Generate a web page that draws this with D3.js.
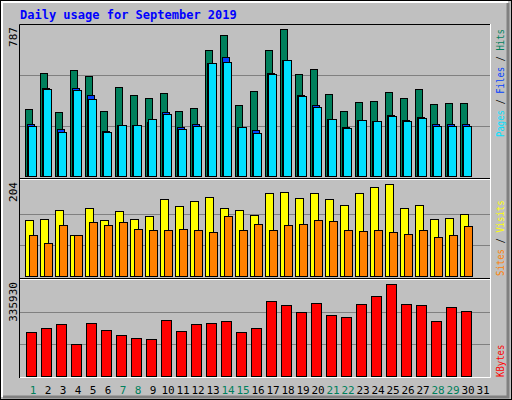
<!DOCTYPE html>
<html><head><meta charset="utf-8">
<script src="https://cdn.jsdelivr.net/npm/d3@7"></script>
<style>body{margin:0;background:#fff}</style>
</head><body><div id="chart"></div>
<script>
const days = d3.range(1, 32);
const weekend = [1, 7, 8, 14, 15, 21, 22, 28, 29];
const hits = [347,535,332,551,519,337,462,420,405,431,337,353,655,733,368,441,655,764,530,556,426,337,384,389,436,405,452,373,379,379];
const files = [269,457,243,457,420,233,264,264,280,332,254,269,587,618,254,238,535,603,420,368,295,254,290,285,316,290,306,269,269,269];
const pages = [261,452,228,448,401,228,264,264,295,321,243,261,587,592,254,222,530,603,415,358,295,248,290,285,311,285,301,261,261,261];
const visits = [122,124,144,91,150,122,142,124,131,168,153,164,174,150,144,133,181,185,172,183,168,155,181,196,201,150,155,126,128,137];
const sites = [89,72,111,91,118,111,118,104,100,100,104,102,96,131,102,113,102,111,115,122,120,100,98,102,96,93,102,85,91,109];
const kbytes = [152700,166700,180700,110800,184200,159700,142300,131800,128300,194700,156200,180700,184200,191200,152700,166700,261200,247200,222700,254200,212200,205200,250700,278700,320700,250700,247200,191200,240200,226200];

const W = 512, H = 400, left = 20, right = 490;
const svg = d3.select('#chart').append('svg').attr('width', W).attr('height', H)
  .style('font-family', 'DejaVu Sans Mono, monospace');

// frame
svg.append('rect').attr('x', 0.5).attr('y', 0.5).attr('width', W - 1).attr('height', H - 1)
  .attr('fill', '#c0c0c0').attr('stroke', '#000');
svg.append('path').attr('d', 'M2,397V2H508').attr('fill', 'none').attr('stroke', '#fff').attr('stroke-width', 2);
svg.append('path').attr('d', 'M508,3V397H3').attr('fill', 'none').attr('stroke', '#808080').attr('stroke-width', 3);

svg.append('text').attr('x', 20).attr('y', 19).text('Daily usage for September 2019')
  .attr('fill', '#0000ff').attr('font-weight', 'bold').attr('font-size', 12);

const x = d3.scaleBand().domain(days).range([left, left + 15 * 31]);

const panels = [
  { y0: 25, y1: 177, base: 176, top: 25, max: 787, label: '787' },
  { y0: 180, y1: 277, base: 276, top: 183, max: 204, label: '204' },
  { y0: 280, y1: 377, base: 376, top: 280, max: 335930, label: '335930' }
];

panels.forEach(p => {
  const g = svg.append('g');
  g.append('rect').attr('x', left).attr('y', p.y0).attr('width', right - left).attr('height', p.y1 - p.y0)
    .attr('fill', '#c0c0c0');
  p.y = d3.scaleLinear().domain([0, p.max]).range([p.base, p.top]);
  [1, 2].forEach(k => {
    const yy = Math.round(p.y(p.max * k / 3)) + 0.5;
    g.append('line').attr('x1', left).attr('x2', right).attr('y1', yy).attr('y2', yy)
      .attr('stroke', '#808080');
  });
  g.append('text').attr('transform', `translate(17,${p.y0 + 2}) rotate(-90)`)
    .attr('text-anchor', 'end').attr('font-size', 11).attr('fill', '#000').text(p.label);
});

// panel borders
svg.append('path').attr('d', `M${left - 0.5},378V24.5H${right + 0.5}`).attr('fill', 'none').attr('stroke', '#000');
svg.append('path').attr('d', `M${left},377.5H${right + 0.5}V24`).attr('fill', 'none').attr('stroke', '#fff');
[179.5, 279.5].forEach(yy => {
  svg.append('line').attr('x1', left).attr('x2', right).attr('y1', yy - 1).attr('y2', yy - 1).attr('stroke', '#000');
  svg.append('line').attr('x1', left).attr('x2', right).attr('y1', yy).attr('y2', yy).attr('stroke', '#fff');
});

function bars(data, p, off, w, color) {
  svg.append('g').selectAll('rect').data(data).join('rect')
    .attr('x', (d, i) => x(days[i]) + off + 0.5)
    .attr('y', d => Math.round(p.y(d)) + 0.5)
    .attr('width', w)
    .attr('height', d => p.base - Math.round(p.y(d)))
    .attr('fill', color).attr('stroke', '#000');
}
bars(hits, panels[0], 5, 7, '#00805c');
bars(files, panels[0], 7, 7, '#0040ff');
bars(pages, panels[0], 8, 8, '#00e0ff');
bars(visits, panels[1], 5, 8, '#ffff00');
bars(sites, panels[1], 9, 8, '#ff8000');
bars(kbytes, panels[2], 6, 10, '#ff0000');

// day labels
svg.append('g').selectAll('text').data(days).join('text')
  .attr('x', d => x(d) + 13).attr('y', 394).attr('text-anchor', 'middle')
  .attr('font-size', 11).attr('fill', d => weekend.includes(d) ? '#00805c' : '#000')
  .text(d => d);

// right labels
function sideLabel(parts, yEnd) {
  const n = parts.reduce((s, p) => s + p[0].length, 0);
  const t = svg.append('text').attr('transform', `translate(504,${yEnd}) rotate(-90)`)
    .attr('font-size', 10).attr('textLength', n * 5.4).attr('lengthAdjust', 'spacingAndGlyphs');
  parts.forEach(([s, c]) => t.append('tspan').attr('fill', c).text(s));
}
sideLabel([['Pages', '#00e0ff'], [' / ', '#000'], ['Files', '#0040ff'], [' / ', '#000'], ['Hits', '#00805c']], 137);
sideLabel([['Sites', '#ff8000'], [' / ', '#000'], ['Visits', '#ffff00']], 276);
sideLabel([['KBytes', '#ff0000']], 377);
</script></body></html>
